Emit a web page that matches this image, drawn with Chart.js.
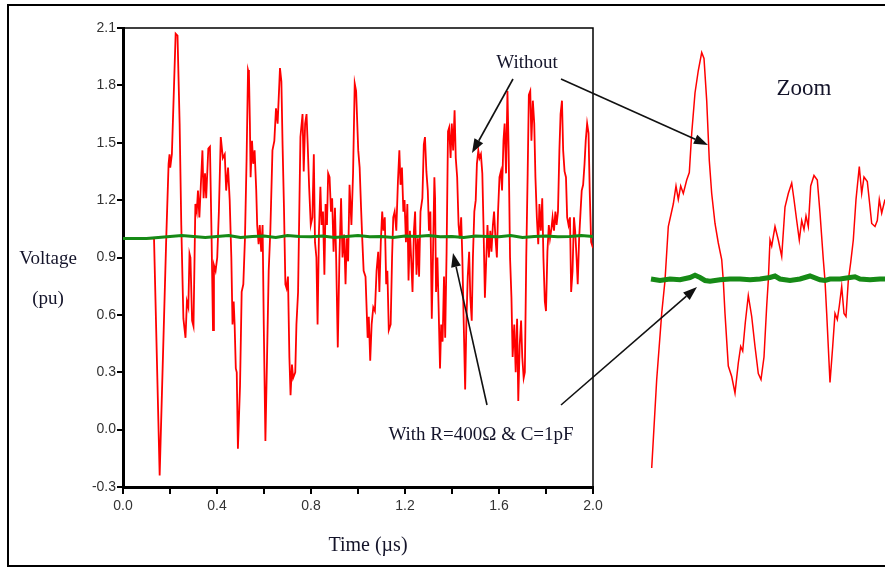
<!DOCTYPE html>
<html>
<head>
<meta charset="utf-8">
<script src="https://cdn.jsdelivr.net/npm/chart.js@4.4.0/dist/chart.umd.min.js"></script>
<style>
  html, body { margin: 0; padding: 0; background: #fff; }
  #wrap { position: relative; width: 885px; height: 567px; overflow: hidden; background: #fff; }
  canvas { position: absolute; left: 0; top: 0; }
</style>
</head>
<body>
<div id="wrap">
  <canvas id="mainChart" width="885" height="567"></canvas>
  <canvas id="zoomChart" width="885" height="567"></canvas>
</div>
<script>
// main trace: time in µs, voltage in pu
const redTime = [
  0, 0.12, 0.132, 0.156, 0.184, 0.194, 0.198, 0.201, 0.208, 0.224, 0.232, 0.241, 0.248, 0.257, 0.266, 0.272, 0.278, 0.283, 0.287, 0.294, 0.300, 0.308, 0.314, 0.319, 0.325,
  0.338, 0.343, 0.349, 0.354, 0.363, 0.370, 0.377, 0.383, 0.387, 0.394, 0.401, 0.408, 0.416, 0.425, 0.433, 0.439, 0.447, 0.454, 0.461, 0.466, 0.471, 0.475, 0.480, 0.484, 0.489, 0.498, 0.505, 0.512, 0.519, 0.526, 0.532, 0.536, 0.540, 0.543, 0.549, 0.554, 0.560, 0.567, 0.571, 0.577, 0.582, 0.588, 0.594, 0.599, 0.606, 0.613, 0.620, 0.627, 0.636, 0.644, 0.651, 0.658,
  0.668, 0.674, 0.679, 0.685, 0.691, 0.696, 0.702, 0.708, 0.713, 0.719, 0.724, 0.733, 0.738, 0.745, 0.755, 0.764, 0.769, 0.775, 0.781, 0.786, 0.792, 0.799, 0.806, 0.812, 0.817, 0.823, 0.828, 0.834, 0.840, 0.845, 0.851, 0.857, 0.862, 0.868, 0.873, 0.879, 0.885, 0.890, 0.896, 0.902, 0.907, 0.914, 0.921, 0.928, 0.934, 0.941, 0.947, 0.952, 0.958, 0.964, 0.972, 0.979, 0.986, 0.992,
  1.001, 1.007, 1.013, 1.018, 1.024, 1.032, 1.041, 1.046, 1.052, 1.058, 1.065, 1.072, 1.079, 1.086, 1.091, 1.097, 1.103, 1.108, 1.114, 1.120, 1.125, 1.131, 1.139, 1.145, 1.150, 1.156, 1.163, 1.170, 1.176, 1.181, 1.187, 1.193, 1.198, 1.204, 1.210, 1.215, 1.221, 1.226, 1.232, 1.238, 1.243, 1.249, 1.255, 1.260, 1.266, 1.274, 1.280, 1.285, 1.291, 1.297, 1.302, 1.308, 1.314, 1.319, 1.325,
  1.328, 1.332, 1.338, 1.343, 1.349, 1.354, 1.360, 1.366, 1.371, 1.377, 1.383, 1.388, 1.394, 1.399, 1.405, 1.411, 1.416, 1.422, 1.428, 1.433, 1.439, 1.444, 1.450, 1.456, 1.461, 1.467, 1.473, 1.478, 1.484, 1.489, 1.495, 1.501, 1.506, 1.512, 1.517, 1.523, 1.529, 1.534, 1.540, 1.546, 1.551, 1.557, 1.563, 1.568, 1.574, 1.579, 1.585, 1.591, 1.596, 1.602, 1.608, 1.613, 1.619, 1.624, 1.630, 1.636, 1.641, 1.647, 1.653, 1.658,
  1.660, 1.665, 1.671, 1.677, 1.682, 1.688, 1.694, 1.699, 1.705, 1.710, 1.716, 1.722, 1.727, 1.733, 1.738, 1.744, 1.750, 1.755, 1.761, 1.767, 1.772, 1.778, 1.784, 1.789, 1.795, 1.800, 1.806, 1.812, 1.817, 1.823, 1.828, 1.834, 1.840, 1.845, 1.851, 1.857, 1.862, 1.868, 1.873, 1.879, 1.885, 1.890, 1.896, 1.902, 1.907, 1.913, 1.919, 1.924, 1.930, 1.935, 1.941, 1.947, 1.952, 1.958, 1.964, 1.969, 1.975, 1.981, 1.986, 1.992, 2.0
];
const redVolt = [
  1.0, 1.0, 1.0, -0.24, 1.0, 1.39, 1.44, 1.37, 1.44, 2.07, 2.06, 1.60, 1.07, 0.58, 0.48, 0.67, 0.64, 0.92, 0.90, 0.57, 0.54, 1.18, 1.14, 1.25, 1.11,
  1.46, 1.21, 1.34, 1.21, 1.47, 1.48, 1.00, 0.52, 0.86, 0.83, 0.90, 1.14, 1.53, 1.42, 1.44, 1.25, 1.37, 1.20, 0.90, 0.55, 0.67, 0.55, 0.32, 0.30, -0.10, 0.23, 0.72, 0.76, 1.00, 1.42, 1.88, 1.86, 1.60, 1.32, 1.51, 1.39, 1.46, 1.25, 1.07, 0.97, 1.07, 0.93, 1.07, 0.55, -0.06, 0.38, 0.83, 1.04, 1.46, 1.51, 1.68, 1.60,
  1.89, 1.82, 1.49, 1.16, 0.76, 0.74, 0.80, 0.38, 0.18, 0.34, 0.27, 0.30, 0.55, 0.72, 1.53, 1.65, 1.35, 1.60, 1.65, 1.49, 1.27, 1.07, 1.11, 1.44, 0.98, 0.90, 0.55, 1.04, 1.27, 1.07, 1.14, 0.81, 1.18, 1.07, 1.34, 1.32, 1.14, 1.21, 0.93, 1.16, 0.90, 0.43, 0.90, 1.21, 0.90, 1.02, 0.76, 1.00, 0.88, 1.28, 1.07, 1.34, 1.81, 1.77,
  1.46, 1.37, 1.16, 1.00, 0.83, 0.80, 0.48, 0.59, 0.36, 0.55, 0.64, 0.62, 0.83, 0.93, 0.72, 0.98, 1.14, 1.04, 1.11, 0.76, 0.83, 0.52, 0.55, 0.90, 1.11, 1.14, 1.04, 1.30, 1.46, 1.28, 1.37, 1.14, 1.20, 0.98, 1.18, 0.78, 1.04, 0.90, 0.72, 1.04, 1.14, 0.81, 1.00, 0.80, 1.14, 1.21, 1.49, 1.53, 1.35, 1.25, 1.04, 1.14, 0.58, 0.90, 1.32,
  1.21, 0.72, 0.90, 0.64, 0.32, 0.55, 0.46, 0.80, 0.48, 0.93, 1.56, 1.58, 1.42, 1.60, 1.46, 1.67, 1.42, 1.32, 1.07, 1.00, 1.11, 0.90, 0.55, 0.21, 0.55, 0.80, 0.93, 0.69, 0.57, 0.90, 1.14, 1.20, 1.39, 1.46, 1.42, 1.44, 1.34, 1.07, 0.69, 0.90, 1.07, 0.90, 1.04, 0.93, 1.07, 1.14, 1.00, 0.90, 1.14, 1.32, 1.35, 1.25, 1.51, 1.60, 1.34, 1.77, 1.46, 0.90, 0.69, 0.38,
  0.43, 0.55, 0.30, 0.58, 0.15, 0.44, 0.57, 0.38, 0.27, 0.30, 0.90, 1.34, 1.75, 1.77, 1.51, 1.72, 1.60, 1.32, 1.11, 0.97, 1.18, 1.04, 1.21, 0.90, 0.67, 0.62, 0.93, 1.07, 1.00, 1.05, 1.11, 1.04, 1.14, 1.07, 1.14, 1.46, 1.65, 1.72, 1.46, 1.35, 1.32, 1.11, 1.07, 1.11, 0.72, 0.83, 1.11, 1.04, 0.90, 0.76, 1.00, 1.14, 1.25, 1.28, 1.39, 1.51, 1.60, 1.55, 1.25, 0.98, 0.95
];

// with R=400Ω & C=1pF: stays near 1 pu
const greenTime = [0, 0.05, 0.1, 0.15, 0.2, 0.25, 0.3, 0.35, 0.4, 0.45, 0.5, 0.55, 0.6, 0.65, 0.7, 0.75, 0.8, 0.85, 0.9, 0.95, 1.0,
  1.05, 1.1, 1.15, 1.2, 1.25, 1.3, 1.35, 1.4, 1.45, 1.5, 1.55, 1.6, 1.65, 1.7, 1.75, 1.8, 1.85, 1.9, 1.95, 2.0];
const greenVolt = [1.00, 1.00, 1.00, 1.005, 1.01, 1.015, 1.01, 1.005, 1.01, 1.015, 1.005, 1.01, 1.012, 1.005, 1.015, 1.01, 1.008, 1.012, 1.005, 1.01, 1.015,
  1.008, 1.01, 1.005, 1.012, 1.01, 1.015, 1.008, 1.01, 1.005, 1.012, 1.01, 1.008, 1.015, 1.005, 1.01, 1.012, 1.008, 1.01, 1.015, 1.01];

// zoom window (no axes shown, arbitrary sample units)
const zoomX = [11.7, 16.7, 21.7, 25, 28.3, 33.3, 36, 38.3, 40.7, 43.3, 46.7, 49.3, 51.7, 55, 58.3, 61.7, 64, 66.7, 69.3, 71.7, 75, 78.3, 81.7, 83.3, 85,
  88.3, 91.7, 95, 98.3, 100.7, 102.7, 105.3, 108.3, 111.7, 115, 118.3, 121, 124, 126.7, 128.3, 130, 131.7, 135, 138.3, 141.7, 145, 148.3, 151.7, 154, 156.7,
  159.3, 161.7, 164, 166, 168.3, 170.7, 174, 177.3, 180, 183.3, 185, 186.7, 190, 192.7, 195, 197.3, 199.3, 201.7, 204, 206, 208.3, 210.7, 213.3, 216, 219.3,
  221.7, 224, 227.3, 230, 231.7, 235, 237.3, 239.3, 241.7, 245];
const zoomRed = [-0.26, 0.33, 0.77, 0.99, 1.35, 1.50, 1.62, 1.53, 1.62, 1.57, 1.66, 1.71, 1.97, 2.24, 2.39, 2.51, 2.47, 2.19, 1.79, 1.57, 1.37, 1.24, 1.13, 0.99, 0.77,
  0.42, 0.35, 0.24, 0.44, 0.55, 0.52, 0.71, 0.89, 0.75, 0.55, 0.37, 0.33, 0.48, 0.82, 0.99, 1.26, 1.22, 1.35, 1.26, 1.15, 1.48, 1.57, 1.64, 1.53, 1.39,
  1.26, 1.39, 1.33, 1.42, 1.35, 1.62, 1.69, 1.66, 1.44, 1.13, 0.99, 0.77, 0.31, 0.55, 0.77, 0.73, 0.82, 0.95, 0.77, 0.75, 0.99, 1.11, 1.26, 1.53, 1.75,
  1.57, 1.68, 1.65, 1.48, 1.37, 1.35, 1.39, 1.53, 1.44, 1.53];
const zoomGreenX = [11, 20, 30, 40, 50, 55, 60, 65, 70, 80, 90, 100, 110, 120, 130, 135, 140, 150, 160, 170, 180, 185, 190, 200, 210, 215, 220, 230, 240, 245];
const zoomGreen = [1.0, 0.99, 1.0, 0.995, 1.01, 1.025, 1.01, 0.99, 0.985, 0.995, 1.0, 1.0, 0.995, 1.0, 1.01, 1.02, 1.0, 0.99, 1.0, 1.02, 0.995, 0.99, 1.0, 1.0, 1.01, 1.015, 1.0, 0.995, 1.0, 1.0];

const xTicks = [0, 0.4, 0.8, 1.2, 1.6, 2.0];

const RED = "#ff0000";
const GREEN = "#168a16";
const serif = "'Liberation Serif', 'Times New Roman', serif";
const tickFont = { family: "'Liberation Sans Narrow', 'Liberation Sans', Arial, sans-serif", size: 14 };

const toPoints = (xs, ys) => xs.map((x, i) => ({ x: x, y: ys[i] }));

// thin top/right border of the plot box
const boxPlugin = {
  id: "box",
  beforeDatasetsDraw(chart) {
    const a = chart.chartArea, ctx = chart.ctx;
    ctx.save();
    ctx.strokeStyle = "#000";
    ctx.lineWidth = 1.5;
    ctx.beginPath();
    ctx.moveTo(a.left, a.top);
    ctx.lineTo(a.right, a.top);
    ctx.lineTo(a.right, a.bottom);
    ctx.stroke();
    ctx.restore();
  }
};

function arrow(ctx, x1, y1, x2, y2) {
  const ang = Math.atan2(y2 - y1, x2 - x1);
  const L = 14, W = 5;
  const bx = x2 - L * Math.cos(ang), by = y2 - L * Math.sin(ang);
  ctx.beginPath();
  ctx.moveTo(x1, y1);
  ctx.lineTo(bx, by);
  ctx.stroke();
  ctx.beginPath();
  ctx.moveTo(x2, y2);
  ctx.lineTo(bx + W * Math.sin(ang), by - W * Math.cos(ang));
  ctx.lineTo(bx - W * Math.sin(ang), by + W * Math.cos(ang));
  ctx.closePath();
  ctx.fill();
}

// texts, arrows and outer frame, drawn on the top canvas
const notesPlugin = {
  id: "notes",
  afterDraw(chart) {
    const ctx = chart.ctx;
    ctx.save();
    ctx.strokeStyle = "#000";
    ctx.lineWidth = 2;
    ctx.strokeRect(8, 5, 900, 561);

    ctx.fillStyle = "#14142a";
    ctx.textAlign = "center";
    ctx.textBaseline = "middle";
    ctx.font = "19px " + serif;
    ctx.fillText("Voltage", 48, 259);
    ctx.fillText("(pu)", 48, 299);
    ctx.fillText("Without", 527, 63);
    ctx.fillText("With R=400\u03A9 & C=1pF", 481, 435);
    ctx.font = "20px " + serif;
    ctx.fillText("Time (\u00B5s)", 368, 546);
    ctx.font = "23px " + serif;
    ctx.fillText("Zoom", 804, 89);

    ctx.strokeStyle = "#111";
    ctx.fillStyle = "#111";
    ctx.lineWidth = 1.6;
    arrow(ctx, 513, 79, 472, 153);
    arrow(ctx, 561, 79, 708, 145);
    arrow(ctx, 487, 405, 453, 253);
    arrow(ctx, 561, 405, 697, 287);
    ctx.restore();
  }
};

new Chart(document.getElementById("mainChart"), {
  type: "line",
  data: {
    datasets: [
      { label: "With R=400\u03A9 & C=1pF", data: toPoints(greenTime, greenVolt), borderColor: GREEN, borderWidth: 3, pointRadius: 0, tension: 0 },
      { label: "Without", data: toPoints(redTime, redVolt), borderColor: RED, borderWidth: 1.8, pointRadius: 0, tension: 0 }
    ]
  },
  options: {
    responsive: false,
    animation: false,
    events: [],
    layout: { padding: { left: 78, right: 292, top: 28, bottom: 50 } },
    plugins: { legend: { display: false }, tooltip: { enabled: false } },
    scales: {
      x: {
        type: "linear", min: 0, max: 2,
        afterFit: s => { s.height = 30; },
        ticks: {
          stepSize: 0.2, autoSkip: false, maxRotation: 0, padding: 4, color: "#333", font: tickFont,
          callback: v => xTicks.some(t => Math.abs(t - v) < 1e-6) ? v.toFixed(1) : ""
        },
        grid: { drawOnChartArea: false, tickLength: 7, color: "#000", lineWidth: 2 },
        border: { color: "#000", width: 3 }
      },
      y: {
        min: -0.3, max: 2.1,
        afterFit: s => { s.width = 45; },
        ticks: { stepSize: 0.3, padding: 1, color: "#333", font: tickFont, callback: v => v.toFixed(1) },
        grid: { drawOnChartArea: false, tickLength: 6, color: "#000", lineWidth: 2 },
        border: { color: "#000", width: 3 }
      }
    }
  },
  plugins: [boxPlugin]
});

new Chart(document.getElementById("zoomChart"), {
  type: "line",
  data: {
    datasets: [
      { label: "With (zoom)", data: toPoints(zoomGreenX, zoomGreen), borderColor: GREEN, borderWidth: 5, pointRadius: 0, tension: 0 },
      { label: "Without (zoom)", data: toPoints(zoomX, zoomRed), borderColor: RED, borderWidth: 1.5, pointRadius: 0, tension: 0 }
    ]
  },
  options: {
    responsive: false,
    animation: false,
    events: [],
    layout: { padding: { left: 640, right: 0, top: 30, bottom: 87 } },
    plugins: { legend: { display: false }, tooltip: { enabled: false } },
    scales: {
      x: { type: "linear", min: 0, max: 245, display: false },
      y: { min: -0.34, max: 2.66, display: false }
    }
  },
  plugins: [notesPlugin]
});
</script>
</body>
</html>
